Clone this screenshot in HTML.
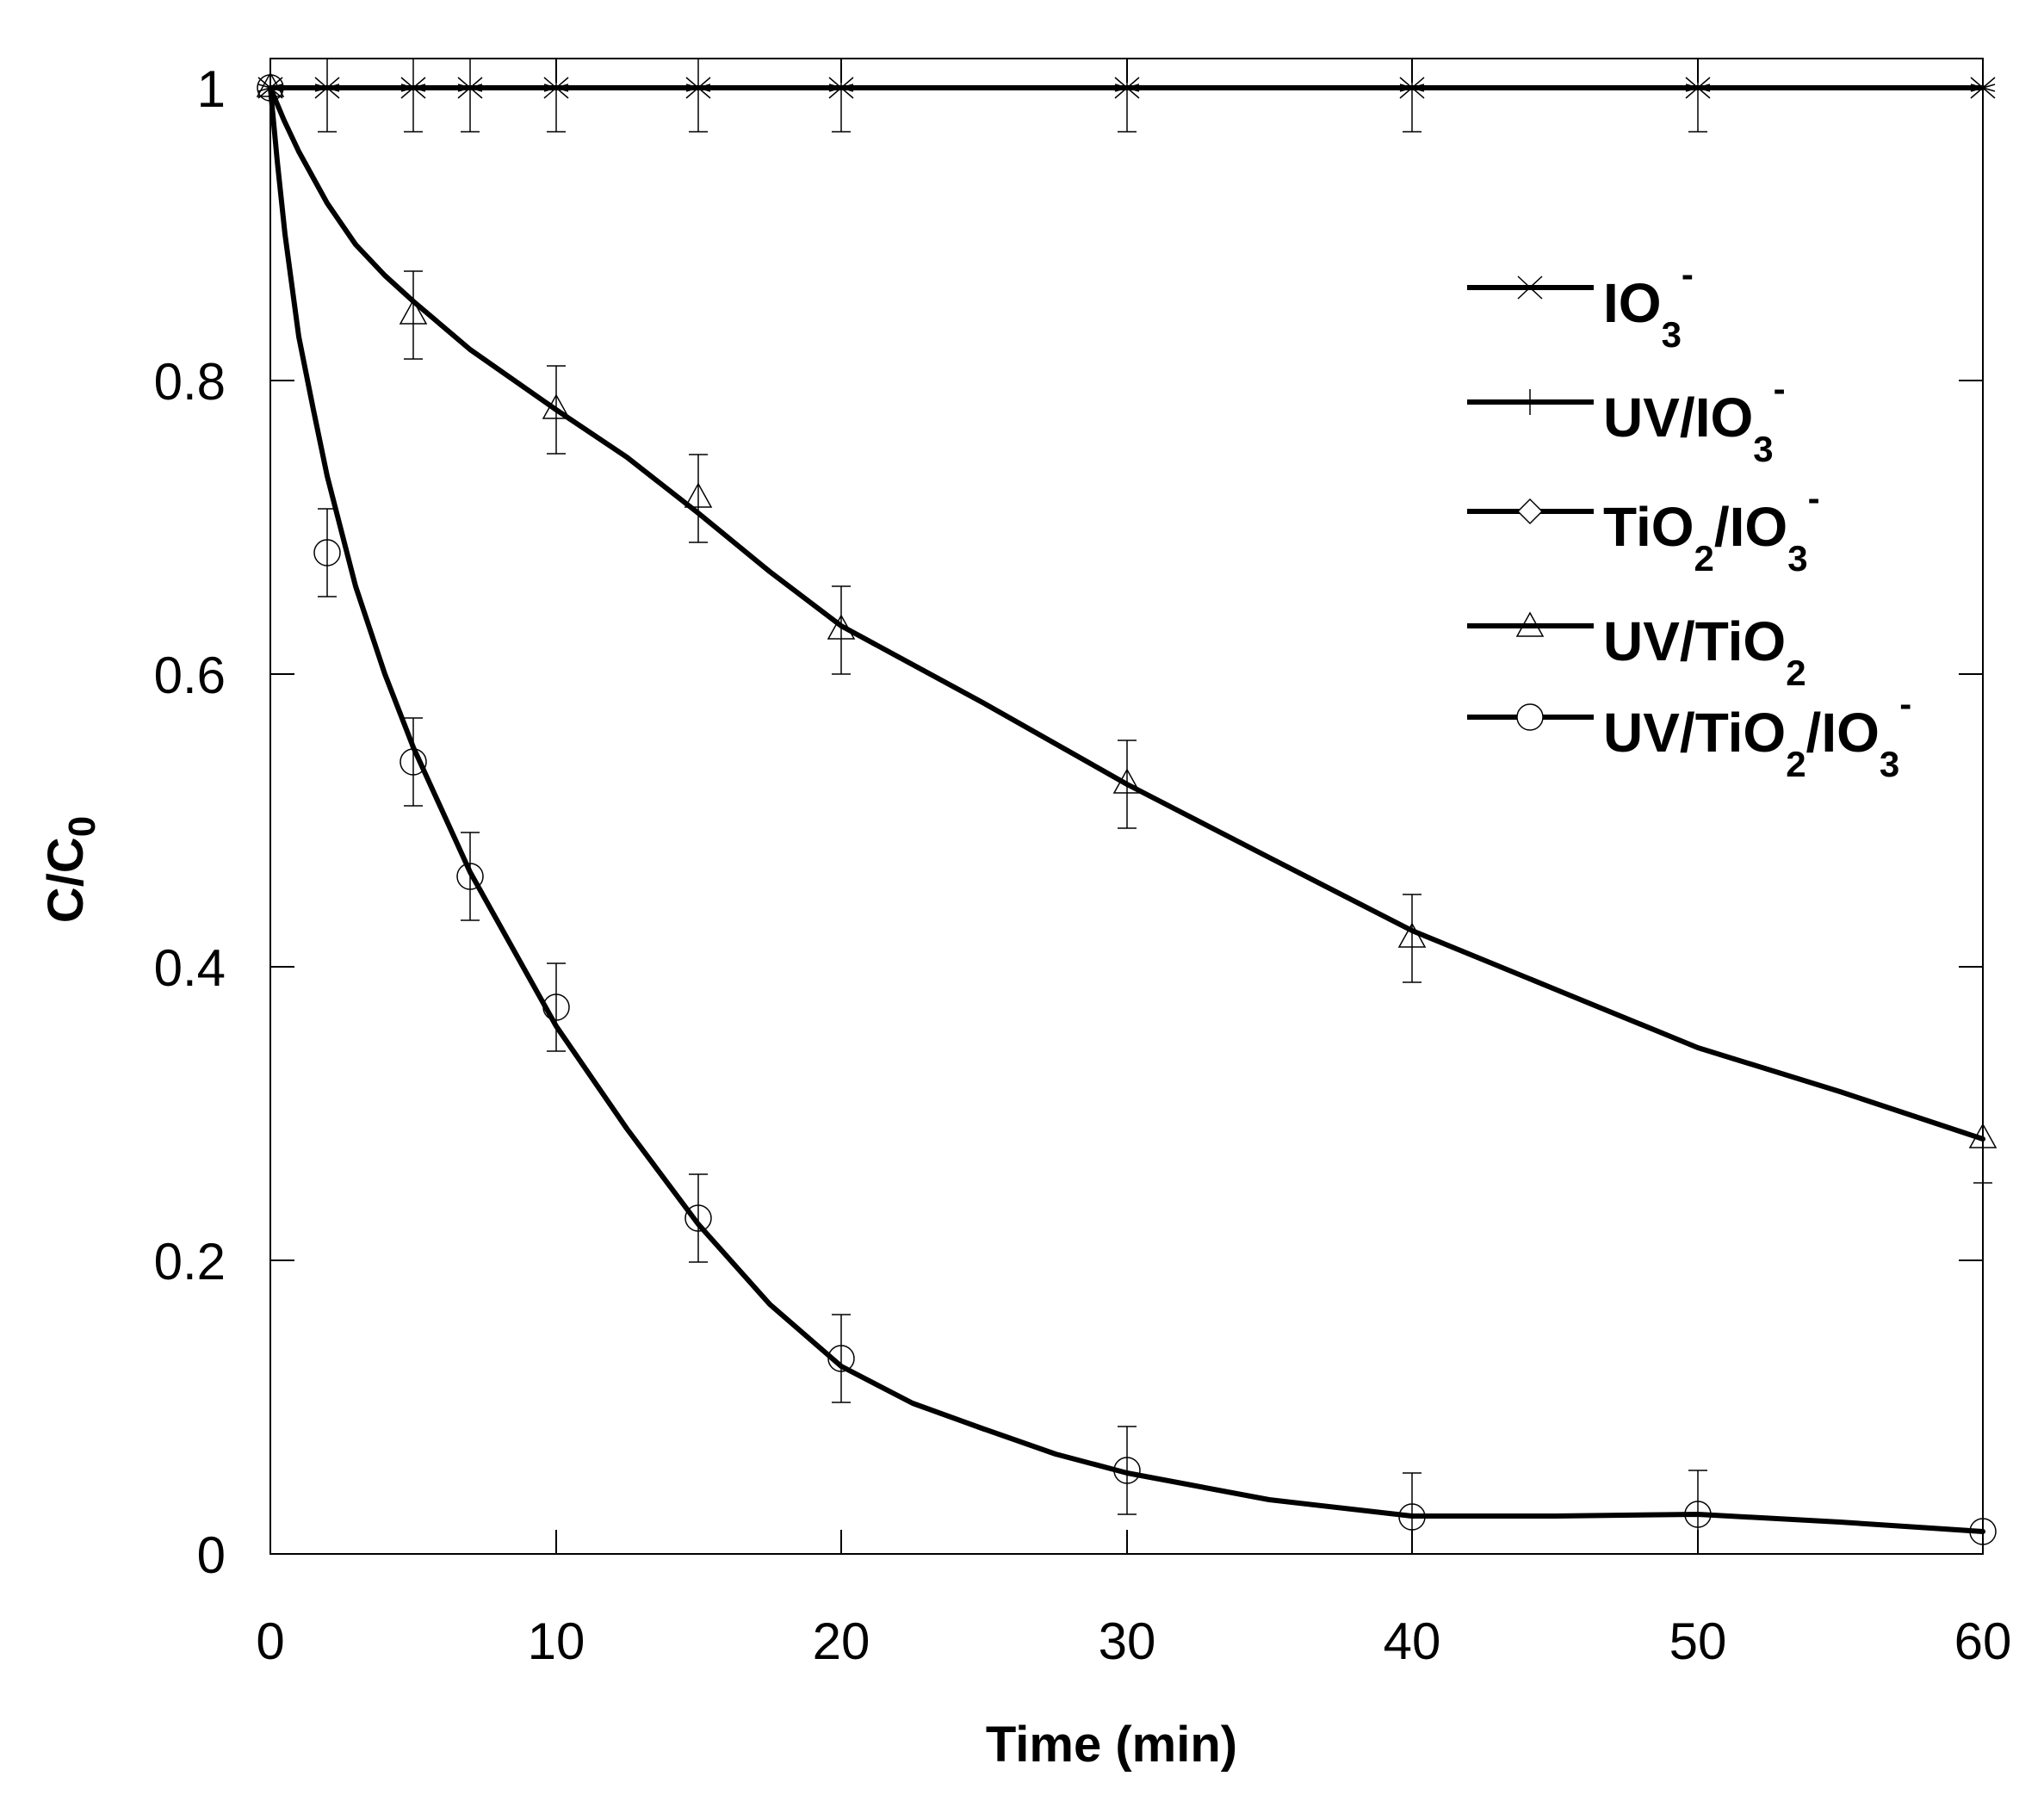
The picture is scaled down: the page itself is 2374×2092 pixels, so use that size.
<!DOCTYPE html>
<html><head><meta charset="utf-8"><style>
html,body{margin:0;padding:0;background:#fff}
svg{display:block}
text{font-family:"Liberation Sans",Arial,sans-serif;fill:#000}
.t{font-size:60px}
.b{font-weight:bold}
</style></head><body>
<svg width="2374" height="2092" viewBox="0 0 2374 2092" xmlns="http://www.w3.org/2000/svg">
<defs>
<g id="mx"><path d="M-14,-12L14,12M-14,12L14,-12M-14,-4L14,4M-14,4L14,-4" stroke="#000" stroke-width="1.5" fill="none"/></g>
<circle id="mc" r="15" fill="none" stroke="#000" stroke-width="1.5"/>
<path id="mt" d="M0,-17L15,10H-15Z" fill="none" stroke="#000" stroke-width="1.5"/>
</defs>
<rect x="314" y="68" width="1989" height="1737" fill="none" stroke="#000" stroke-width="2"/>
<g stroke="#000" stroke-width="2">
<path d="M314,1805h28M314,1464h28M314,1123h28M314,783h28M314,442h28M314,102h28"/>
<path d="M2303,1805h-28M2303,1464h-28M2303,1123h-28M2303,783h-28M2303,442h-28M2303,102h-28"/>
<path d="M314,1805v-28M646,1805v-28M977,1805v-28M1309,1805v-28M1640,1805v-28M1972,1805v-28M2303,1805v-28"/>
<path d="M314,68v28M646,68v28M977,68v28M1309,68v28M1640,68v28M1972,68v28M2303,68v28"/>
</g>
<g class="t" text-anchor="end">
<text x="262" y="1827">0</text>
<text x="262" y="1486">0.2</text>
<text x="262" y="1145">0.4</text>
<text x="262" y="805">0.6</text>
<text x="262" y="464">0.8</text>
<text x="262" y="124">1</text>
</g>
<g class="t" text-anchor="middle">
<text x="314" y="1927">0</text>
<text x="646" y="1927">10</text>
<text x="977" y="1927">20</text>
<text x="1309" y="1927">30</text>
<text x="1640" y="1927">40</text>
<text x="1972" y="1927">50</text>
<text x="2303" y="1927">60</text>
</g>
<text class="b" x="1291" y="2046" text-anchor="middle" font-size="58">Time (min)</text>
<text class="b" font-size="58" transform="translate(96,1010) rotate(-90)" text-anchor="middle">C/C<tspan font-size="44" dy="14">0</tspan></text>

<g stroke="#000" stroke-width="1.5" fill="none">
<path d="M380,68V153M480,68V153M546,68V153M646,68V153M811,68V153M977,68V153M1309,68V153M1640,68V153M1972,68V153M2303,68V153"/>
<path d="M369,153h22M469,153h22M535,153h22M635,153h22M800,153h22M966,153h22M1298,153h22M1629,153h22M1961,153h22"/>
<path d="M480,315V417M469,315h22M469,417h22"/>
<path d="M646,425V527M635,425h22M635,527h22"/>
<path d="M811,528V630M800,528h22M800,630h22"/>
<path d="M977,681V783M966,681h22M966,783h22"/>
<path d="M1309,860V962M1298,860h22M1298,962h22"/>
<path d="M1640,1039V1141M1629,1039h22M1629,1141h22"/>
<path d="M2303,1272V1374M2292,1374h22"/>
<path d="M380,591V693M369,591h22M369,693h22"/>
<path d="M480,834V936M469,834h22M469,936h22"/>
<path d="M546,967V1069M535,967h22M535,1069h22"/>
<path d="M646,1119V1221M635,1119h22M635,1221h22"/>
<path d="M811,1364V1466M800,1364h22M800,1466h22"/>
<path d="M977,1527V1629M966,1527h22M966,1629h22"/>
<path d="M1309,1657V1759M1298,1657h22M1298,1759h22"/>
<path d="M1640,1711V1805M1629,1711h22"/>
<path d="M1972,1708V1805M1961,1708h22"/>
</g>

<g stroke="#000" stroke-width="6" fill="none" stroke-linejoin="round" stroke-linecap="round">
<path d="M314,102H2303"/>
<polyline points="314,102 330,140 347,176 380,236 413,284 447,320 480,350 546,406 646,476 728,531 811,596 894,664 977,727 1143,817 1309,911 1474,996 1640,1081 1806,1149 1972,1217 2137,1268 2303,1323"/>
<polyline points="314,102 322,187 331,272 347,391 364,476 380,553 413,681 447,783 480,868 546,1013 646,1192 728,1311 811,1422 894,1515 977,1587 1060,1630 1143,1660 1226,1689 1309,1711 1474,1742 1640,1761 1806,1761 1972,1759 2137,1768 2303,1779"/>
</g>

<g>
<use href="#mx" x="314" y="102"/><use href="#mx" x="380" y="102"/><use href="#mx" x="480" y="102"/><use href="#mx" x="546" y="102"/><use href="#mx" x="646" y="102"/><use href="#mx" x="811" y="102"/><use href="#mx" x="977" y="102"/><use href="#mx" x="1309" y="102"/><use href="#mx" x="1640" y="102"/><use href="#mx" x="1972" y="102"/><use href="#mx" x="2303" y="102"/>
<use href="#mc" x="314" y="102"/><use href="#mt" x="314" y="102"/>
<use href="#mt" x="480" y="366"/><use href="#mt" x="646" y="476"/><use href="#mt" x="811" y="579"/><use href="#mt" x="977" y="732"/><use href="#mt" x="1309" y="911"/><use href="#mt" x="1640" y="1090"/><use href="#mt" x="2303" y="1323"/>
<use href="#mc" x="380" y="642"/><use href="#mc" x="480" y="885"/><use href="#mc" x="546" y="1018"/><use href="#mc" x="646" y="1170"/><use href="#mc" x="811" y="1415"/><use href="#mc" x="977" y="1578"/><use href="#mc" x="1309" y="1708"/><use href="#mc" x="1640" y="1762"/><use href="#mc" x="1972" y="1759"/><use href="#mc" x="2303" y="1779"/>
</g>

<g stroke="#000" stroke-width="6">
<path d="M1704,334H1851M1704,467H1851M1704,594H1851M1704,727H1851M1704,833H1851"/>
</g>
<g stroke="#000" stroke-width="1.5" fill="none">
<path d="M1763,321L1791,347M1763,347L1791,321"/>
<path d="M1777,452V482"/>
<path d="M1777,580L1791,594L1777,608L1763,594Z" fill="#fff"/>
<path d="M1777,712L1792,739H1762Z"/>
<circle cx="1777" cy="833" r="15" fill="#fff"/>
</g>
<g class="b" font-size="64">
<text x="1862" y="374">IO<tspan font-size="42" dy="29">3</tspan><tspan font-size="42" dy="-70">-</tspan></text>
<text x="1862" y="507">UV/IO<tspan font-size="42" dy="29">3</tspan><tspan font-size="42" dy="-70">-</tspan></text>
<text x="1862" y="634">TiO<tspan font-size="42" dy="29">2</tspan><tspan dy="-29">/IO</tspan><tspan font-size="42" dy="29">3</tspan><tspan font-size="42" dy="-70">-</tspan></text>
<text x="1862" y="767">UV/TiO<tspan font-size="42" dy="29">2</tspan></text>
<text x="1862" y="873">UV/TiO<tspan font-size="42" dy="29">2</tspan><tspan dy="-29">/IO</tspan><tspan font-size="42" dy="29">3</tspan><tspan font-size="42" dy="-70">-</tspan></text>
</g>
</svg>
</body></html>
